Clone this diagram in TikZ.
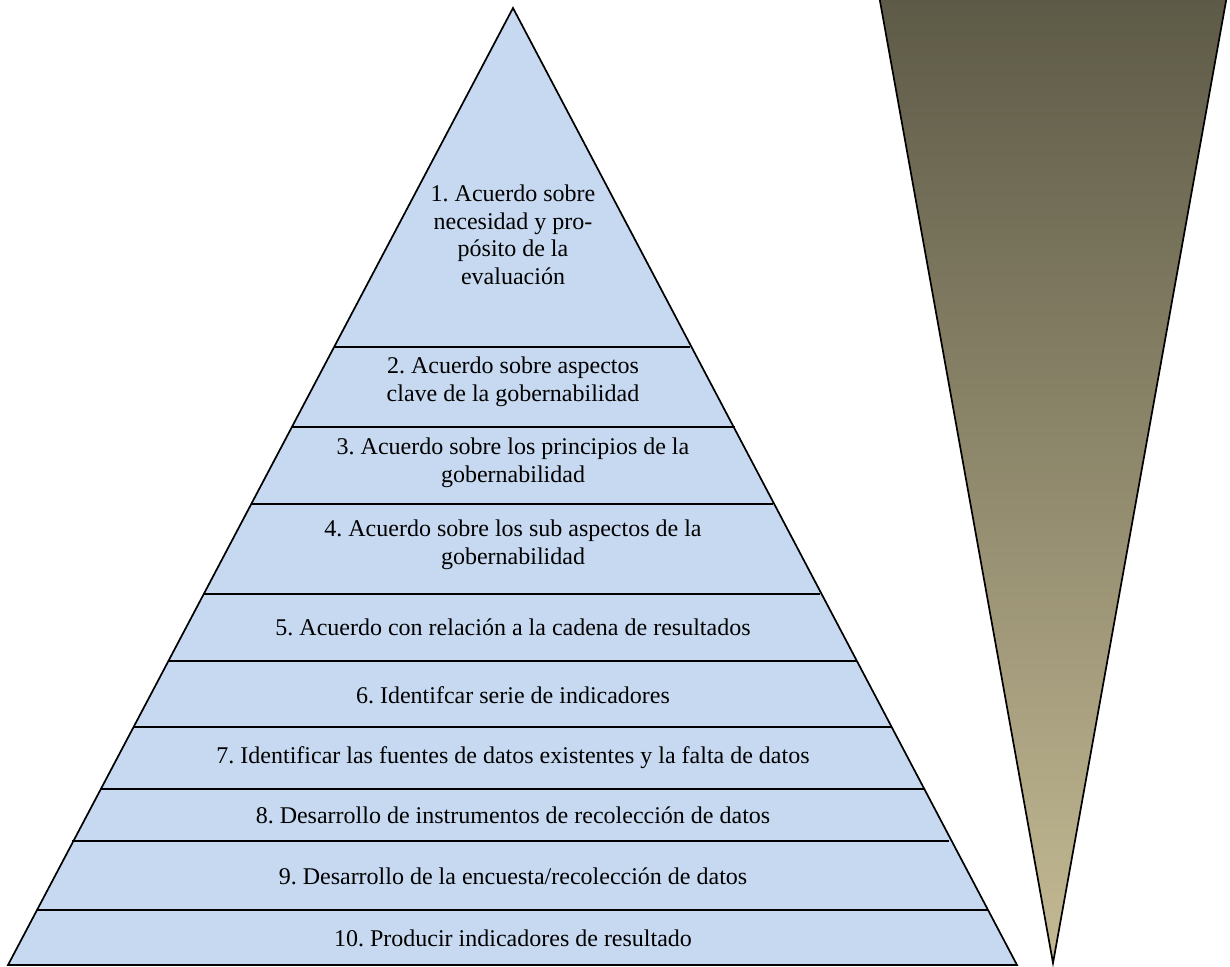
\documentclass[tikz,border=0pt]{standalone}
\usepackage{fontspec}
\setmainfont{Liberation Serif}
\usepackage{tikz}

\definecolor{pyrblue}{RGB}{198,217,240}
\definecolor{olivetop}{RGB}{92,89,70}
\definecolor{olivebottom}{RGB}{196,186,148}

\frenchspacing

\begin{document}
\begin{tikzpicture}[x=1pt,y=-1pt,line width=1.7pt,font=\fontsize{24}{27.5}\selectfont]

\useasboundingbox (0, 0) rectangle (1230, 966);

% pyramid
\fill [pyrblue] (513, 8) -- (1017, 965) -- (8, 965) -- cycle;

\draw (335, 347) -- (690, 347);
\draw (292, 427) -- (735, 427);
\draw (251, 504) -- (773, 504);
\draw (203, 594) -- (820, 594);
\draw (169, 661) -- (857, 661);
\draw (133, 727) -- (892, 727);
\draw (100, 789) -- (924, 789);
\draw (72, 841) -- (949, 841);
\draw (37, 910) -- (988, 910);

\draw [line join=miter] (8, 965) -- (513, 8) -- (1017, 965) -- cycle;

\node [align=center] (s1) at (513, 235) {1. Acuerdo sobre\\necesidad y pro-\\pósito de la\\evaluación};
\node [align=center] (s2) at (513, 382) {2. Acuerdo sobre aspectos\\clave de la gobernabilidad};
\node [align=center] (s3) at (513, 463) {3. Acuerdo sobre los principios de la\\gobernabilidad};
\node [align=center] (s4) at (513, 545) {4. Acuerdo sobre los sub aspectos de la\\gobernabilidad};
\node (s5) at (513, 627) {5. Acuerdo con relación a la cadena de resultados};
\node (s6) at (513, 695) {6. Identifcar serie de indicadores};
\node (s7) at (513, 758) {7. Identificar las fuentes de datos existentes y la falta de datos};
\node (s8) at (513, 815) {8. Desarrollo de instrumentos de recolección de datos};
\node (s9) at (513, 876) {9. Desarrollo de la encuesta/recolección de datos};
\node (s10) at (513, 938) {10. Producir indicadores de resultado};

% inverted wedge
\shade [top color=olivetop, bottom color=olivebottom] (878, -10) -- (1228, -10) -- (1053, 963) -- cycle;
\draw [line join=miter] (878, -10) -- (1053, 963) -- (1228, -10);

\end{tikzpicture}
\end{document}
